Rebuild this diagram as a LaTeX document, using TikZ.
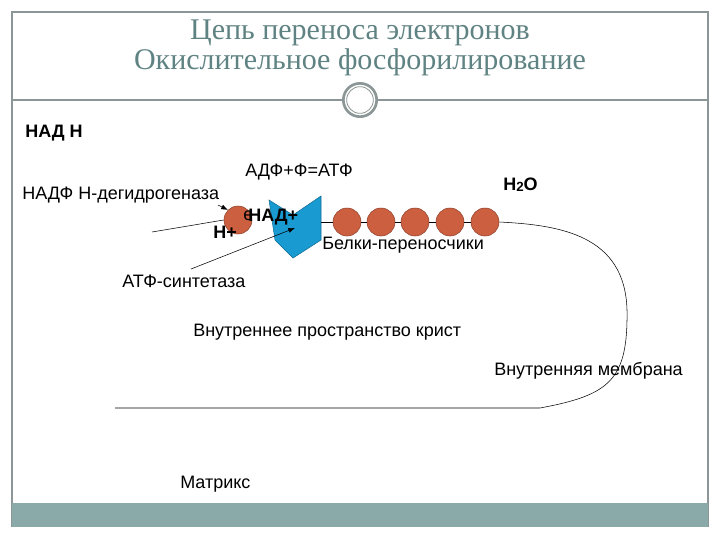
\documentclass[tikz,border=0pt]{standalone}
\usepackage{fontspec}
\setmainfont{Liberation Sans}
\newfontfamily\titlefont{Liberation Serif}
\usetikzlibrary{arrows.meta}
\definecolor{teal1}{RGB}{138,170,170}
\definecolor{titlec}{RGB}{95,130,130}
\definecolor{frame}{RGB}{140,150,150}
\definecolor{ball}{RGB}{205,95,65}
\definecolor{chev}{RGB}{25,155,210}
\tikzset{
 lbl/.style={font=\fontsize{13.5}{15}\selectfont, inner sep=0pt, anchor=west},
 blbl/.style={lbl, font=\fontsize{13.5}{15}\selectfont\bfseries},
 ballst/.style={circle, draw=ball!70!black, fill=ball, minimum size=21pt, inner sep=0pt},
}
\begin{document}
\begin{tikzpicture}[x=0.75pt,y=-0.75pt]
\useasboundingbox (0,0) rectangle (720,540);
\fill[white] (0,0) rectangle (720,540);
\draw[frame, line width=0.8pt] (12,527) -- (12,12) -- (708,12) -- (708,527);
\fill[teal1] (12,503) rectangle (708,527);
\node[titlec, font=\titlefont\fontsize{22.5}{24}\selectfont] (t1) at (360,33) {Цепь переноса электронов};
\node[titlec, font=\titlefont\fontsize{22.5}{24}\selectfont] (t2) at (360,62) {Окислительное фосфорилирование};
\draw[frame, line width=0.8pt] (12,100) -- (342,100) (378,100) -- (708,100);
\node[circle, draw=frame, line width=2pt, minimum size=25pt] (ring) at (360,100) {};
\node[circle, draw=frame, line width=0.6pt, minimum size=20pt] (ring2) at (360,100) {};
\node[blbl] (nadh) at (25,133) {НАД Н};
\node[lbl] (adf) at (245,172) {АДФ+Ф=АТФ};
\node[lbl] (nadf) at (22,195) {НАДФ Н-дегидрогеназа};
\node[blbl] (h2o) at (503,185) {H\raisebox{-0.5pt}{\fontsize{10}{11}\selectfont 2}O};
% membrane
\coordinate (ls) at (152,232);
\coordinate (le) at (115,408);
\node[ballst] (b0) at (238,220) {};
\node[ballst] (b1) at (347,222) {};
\node[ballst] (b2) at (381,222) {};
\node[ballst] (b3) at (415,222) {};
\node[ballst] (b4) at (450,222) {};
\node[ballst] (b5) at (485,222) {};
\draw (ls) -- (b0.west);
\draw (b1) -- (b2) (b2) -- (b3) (b3) -- (b4) (b4) -- (b5);
\draw (b5.east) .. controls (560,225) and (625,235) .. (627,310)
  .. controls (628,380) and (610,395) .. (540,408) -- (le);
\coordinate (cv) at (295,228);
\fill[chev, draw=chev!70!black] (269,200) -- (293,215) -- (321,196) -- (321,240) -- (293,258) -- (275,240) -- cycle;
\draw (321,222) -- (b1.west);
\node[blbl] (hp) at (213,232) {H+};
\node[lbl] (el) at (243,216) {e};
\node[blbl] (nadp) at (248,217) {НАД+};
\node[lbl] (belki) at (322,245) {Белки-переносчики};
\node[lbl] (atfs) at (122,281) {АТФ-синтетаза};
\coordinate (as) at (191,269);
\draw[-{Latex[length=5pt]}] (as) -- (cv);
\coordinate (ds) at (218,205);
\draw[-{Latex[length=5pt]}] (ds) -- (b0.north west);
\node[lbl] (vnp) at (193,332) {Внутреннее пространство крист};
\node[lbl] (vnm) at (494,371) {Внутренняя мембрана};
\node[lbl] (matr) at (180,484) {Матрикс};
\end{tikzpicture}
\end{document}
